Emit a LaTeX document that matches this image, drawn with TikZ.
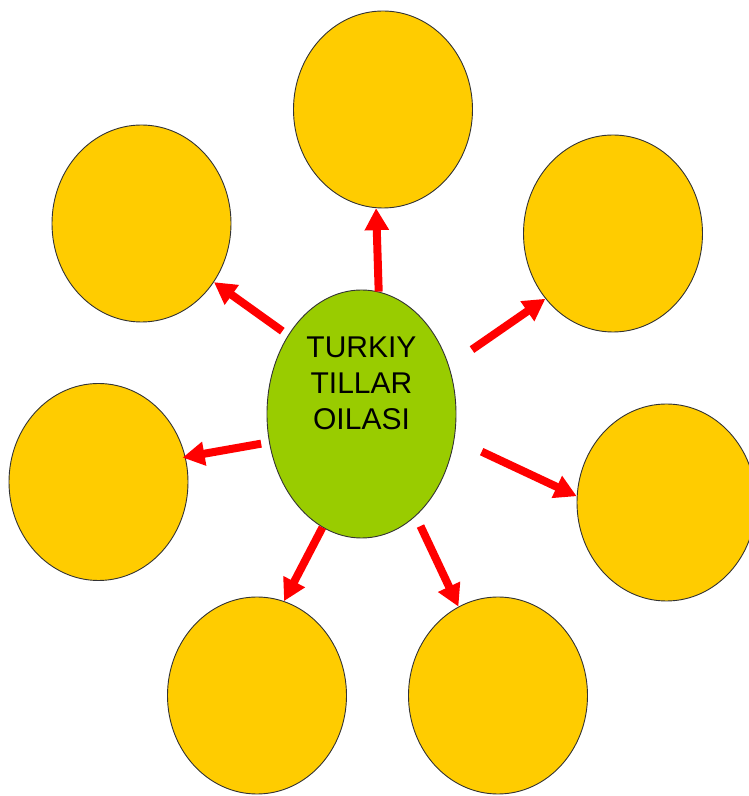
\documentclass[tikz,border=0pt]{standalone}
\usepackage{fontspec}
\setmainfont{Liberation Sans}
\usetikzlibrary{shapes.geometric,arrows.meta,calc}
\definecolor{petal}{HTML}{FFCC00}
\definecolor{hub}{HTML}{99CC00}
\tikzset{
  petalnode/.style={ellipse, draw=black!80, line width=0.9pt, fill=petal, minimum width=179pt, minimum height=197pt, inner sep=0pt},
  hubnode/.style={ellipse, draw=black!80, line width=0.9pt, fill=hub, minimum width=189pt, minimum height=248pt, inner sep=0pt},
  arr/.style={draw=red, line width=8pt, -{Triangle[width=23pt,length=22pt]}}
}
\begin{document}
\begin{tikzpicture}[x=1pt,y=1pt]
\useasboundingbox (0,0) rectangle (748,796);
\node[hubnode] (g) at (361.5,382) {};
\node[align=center, font=\fontsize{30}{36}\selectfont, inner sep=0pt] (gt) at (361.5,413) {TURKIY\\TILLAR\\OILASI};
\node[petalnode] (t)  at (383,686.5) {};
\node[petalnode] (ul) at (141.5,572.5) {};
\node[petalnode] (ur) at (613,562.5) {};
\node[petalnode] (l)  at (98.5,314) {};
\node[petalnode] (r)  at (666.5,293.5) {};
\node[petalnode] (bl) at (257,100.5) {};
\node[petalnode] (br) at (498,100.5) {};
\draw[arr] (g.82.9) -- (t.266.5);
\draw[arr, shorten <=7pt] (g.133.8) -- (ul.-39.6);
\draw[arr, shorten <=28pt] (g.29.1) -- (ur.224.8);
\draw[arr, shorten <=8pt, shorten >=-3pt] (g.197.3) -- (l.16.6);
\draw[arr, shorten <=30pt] (g.-15.2) -- (r.176.5);
\draw[arr] (g.251.3) -- (bl.74.8);
\draw[arr, shorten <=11pt] (g.-62.8) -- (br.114);
\end{tikzpicture}
\end{document}
